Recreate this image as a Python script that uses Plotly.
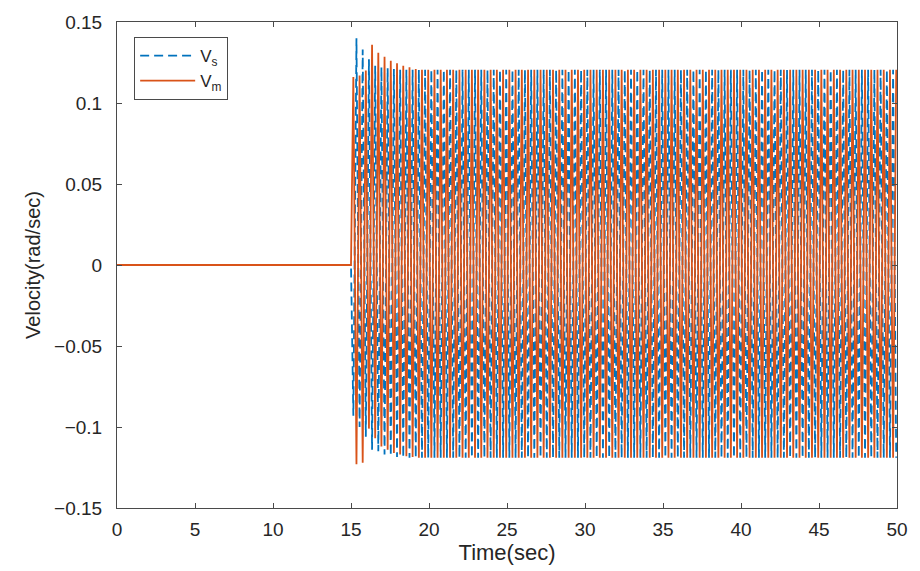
import plotly.graph_objects as go

# ---------------- data ----------------
x_ticks = [0, 5, 10, 15, 20, 25, 30, 35, 40, 45, 50]
y_ticks = [-0.15, -0.1, -0.05, 0, 0.05, 0.1, 0.15]
y_tick_labels = ["\u22120.15", "\u22120.1", "\u22120.05", "0", "0.05", "0.1", "0.15"]

# times of the extremes (peaks / troughs) of the oscillation, sec
time_s = [
    0.0, 15.0,
    15.15, 15.35, 15.55, 15.75, 15.95,
    16.15, 16.35, 16.55, 16.75, 16.95,
    17.15, 17.35, 17.55, 17.75, 17.95,
    18.15, 18.35, 18.55, 18.75, 18.95,
    19.15, 19.35, 19.55, 19.75, 19.95,
    20.15, 20.35, 20.55, 20.75, 20.95,
    21.15, 21.35, 21.55, 21.75, 21.95,
    22.15, 22.35, 22.55, 22.75, 22.95,
    23.15, 23.35, 23.55, 23.75, 23.95,
    24.15, 24.35, 24.55, 24.75, 24.95,
    25.15, 25.35, 25.55, 25.75, 25.95,
    26.15, 26.35, 26.55, 26.75, 26.95,
    27.15, 27.35, 27.55, 27.75, 27.95,
    28.15, 28.35, 28.55, 28.75, 28.95,
    29.15, 29.35, 29.55, 29.75, 29.95,
    30.15, 30.35, 30.55, 30.75, 30.95,
    31.15, 31.35, 31.55, 31.75, 31.95,
    32.15, 32.35, 32.55, 32.75, 32.95,
    33.15, 33.35, 33.55, 33.75, 33.95,
    34.15, 34.35, 34.55, 34.75, 34.95,
    35.15, 35.35, 35.55, 35.75, 35.95,
    36.15, 36.35, 36.55, 36.75, 36.95,
    37.15, 37.35, 37.55, 37.75, 37.95,
    38.15, 38.35, 38.55, 38.75, 38.95,
    39.15, 39.35, 39.55, 39.75, 39.95,
    40.15, 40.35, 40.55, 40.75, 40.95,
    41.15, 41.35, 41.55, 41.75, 41.95,
    42.15, 42.35, 42.55, 42.75, 42.95,
    43.15, 43.35, 43.55, 43.75, 43.95,
    44.15, 44.35, 44.55, 44.75, 44.95,
    45.15, 45.35, 45.55, 45.75, 45.95,
    46.15, 46.35, 46.55, 46.75, 46.95,
    47.15, 47.35, 47.55, 47.75, 47.95,
    48.15, 48.35, 48.55, 48.75, 48.95,
    49.15, 49.35, 49.55, 49.75, 49.95,
]

# V_s (slave velocity) extremes, rad/sec
vs_vals = [
    0.0, 0.0,
    -0.093, 0.140, -0.100, 0.133, -0.106, 0.127, -0.114, 0.123, -0.115, 0.122,
    -0.117, 0.1215, -0.118, 0.121, -0.1185, 0.1205, -0.119,
    0.1205, -0.119, 0.1205, -0.119, 0.1205, -0.119, 0.1205, -0.119, 0.1205, -0.119,
    0.1205, -0.119, 0.1205, -0.119, 0.1205, -0.119, 0.1205, -0.119, 0.1205, -0.119,
    0.1205, -0.119, 0.1205, -0.119, 0.1205, -0.119, 0.1205, -0.119, 0.1205, -0.119,
    0.1205, -0.119, 0.1205, -0.119, 0.1205, -0.119, 0.1205, -0.119, 0.1205, -0.119,
    0.1205, -0.119, 0.1205, -0.119, 0.1205, -0.119, 0.1205, -0.119, 0.1205, -0.119,
    0.1205, -0.119, 0.1205, -0.119, 0.1205, -0.119, 0.1205, -0.119, 0.1205, -0.119,
    0.1205, -0.119, 0.1205, -0.119, 0.1205, -0.119, 0.1205, -0.119, 0.1205, -0.119,
    0.1205, -0.119, 0.1205, -0.119, 0.1205, -0.119, 0.1205, -0.119, 0.1205, -0.119,
    0.1205, -0.119, 0.1205, -0.119, 0.1205, -0.119, 0.1205, -0.119, 0.1205, -0.119,
    0.1205, -0.119, 0.1205, -0.119, 0.1205, -0.119, 0.1205, -0.119, 0.1205, -0.119,
    0.1205, -0.119, 0.1205, -0.119, 0.1205, -0.119, 0.1205, -0.119, 0.1205, -0.119,
    0.1205, -0.119, 0.1205, -0.119, 0.1205, -0.119, 0.1205, -0.119, 0.1205, -0.119,
    0.1205, -0.119, 0.1205, -0.119, 0.1205, -0.119, 0.1205, -0.119, 0.1205, -0.119,
    0.1205, -0.119, 0.1205, -0.119, 0.1205, -0.119, 0.1205, -0.119, 0.1205, -0.119,
    0.1205, -0.119, 0.1205, -0.119, 0.1205, -0.119, 0.1205, -0.119, 0.1205, -0.119,
    0.1205, -0.119, 0.1205, -0.119, 0.1205, -0.119, 0.1205, -0.119,
]

# V_m (master velocity) extremes, rad/sec
vm_vals = [
    0.0, 0.0,
    0.116, -0.123, 0.117, -0.122, 0.120, -0.101, 0.136, -0.107, 0.131, -0.112,
    0.1285, -0.114, 0.126, -0.116, 0.1245, -0.117, 0.123, -0.118, 0.122, -0.1185,
    0.121, -0.119,
    0.1205, -0.119, 0.1205, -0.119, 0.1205, -0.119, 0.1205, -0.119, 0.1205, -0.119,
    0.1205, -0.119, 0.1205, -0.119, 0.1205, -0.119, 0.1205, -0.119, 0.1205, -0.119,
    0.1205, -0.119, 0.1205, -0.119, 0.1205, -0.119, 0.1205, -0.119, 0.1205, -0.119,
    0.1205, -0.119, 0.1205, -0.119, 0.1205, -0.119, 0.1205, -0.119, 0.1205, -0.119,
    0.1205, -0.119, 0.1205, -0.119, 0.1205, -0.119, 0.1205, -0.119, 0.1205, -0.119,
    0.1205, -0.119, 0.1205, -0.119, 0.1205, -0.119, 0.1205, -0.119, 0.1205, -0.119,
    0.1205, -0.119, 0.1205, -0.119, 0.1205, -0.119, 0.1205, -0.119, 0.1205, -0.119,
    0.1205, -0.119, 0.1205, -0.119, 0.1205, -0.119, 0.1205, -0.119, 0.1205, -0.119,
    0.1205, -0.119, 0.1205, -0.119, 0.1205, -0.119, 0.1205, -0.119, 0.1205, -0.119,
    0.1205, -0.119, 0.1205, -0.119, 0.1205, -0.119, 0.1205, -0.119, 0.1205, -0.119,
    0.1205, -0.119, 0.1205, -0.119, 0.1205, -0.119, 0.1205, -0.119, 0.1205, -0.119,
    0.1205, -0.119, 0.1205, -0.119, 0.1205, -0.119, 0.1205, -0.119, 0.1205, -0.119,
    0.1205, -0.119, 0.1205, -0.119, 0.1205, -0.119, 0.1205, -0.119, 0.1205, -0.119,
    0.1205, -0.119, 0.1205, -0.119, 0.1205, -0.119, 0.1205, -0.119, 0.1205, -0.119,
    0.1205, -0.119, 0.1205, -0.119, 0.1205, -0.119, 0.1205, -0.119, 0.1205, -0.119,
    0.1205, -0.119,
    0.1205,
]

# ---------------- figure ----------------
FONT = "Liberation Sans, Arial, sans-serif"
AXIS_COLOR = "#4a4a4a"
TEXT_COLOR = "#262626"

fig = go.Figure()
fig.add_trace(go.Scatter(
    x=time_s, y=vs_vals, mode="lines", name="V<sub>s</sub>",
    line=dict(color="#0072BD", width=1.8, dash="9px,4.97px"),
))
fig.add_trace(go.Scatter(
    x=time_s, y=vm_vals, mode="lines", name="V<sub>m</sub>",
    line=dict(color="#D95319", width=1.8),
))

axis_common = dict(
    showline=True, linecolor=AXIS_COLOR, linewidth=1, mirror="ticks",
    ticks="inside", ticklen=5, tickcolor=AXIS_COLOR, tickwidth=1,
    showgrid=False, zeroline=False,
    tickfont=dict(family=FONT, size=19, color=TEXT_COLOR),
)

fig.update_layout(
    width=920, height=571,
    margin=dict(l=117, r=22, t=19, b=62),
    paper_bgcolor="white", plot_bgcolor="white",
    font=dict(family=FONT, color=TEXT_COLOR),
    xaxis=dict(
        range=[0, 50], tickvals=x_ticks, ticklabelstandoff=4,
        title=dict(text="Time(sec)", font=dict(family=FONT, size=22, color=TEXT_COLOR), standoff=4),
        **axis_common,
    ),
    yaxis=dict(
        range=[-0.15, 0.15], tickvals=y_ticks, ticktext=y_tick_labels, ticklabelstandoff=10,
        title=dict(text="Velocity(rad/sec)", font=dict(family=FONT, size=20, color=TEXT_COLOR), standoff=8),
        **axis_common,
    ),
    showlegend=True,
    legend=dict(
        x=0.022, y=0.969, xanchor="left", yanchor="top",
        bgcolor="white", bordercolor=AXIS_COLOR, borderwidth=1,
        font=dict(family=FONT, size=17, color=TEXT_COLOR),
        tracegroupgap=0, itemwidth=55,
    ),
)

fig.write_html("out.html")
